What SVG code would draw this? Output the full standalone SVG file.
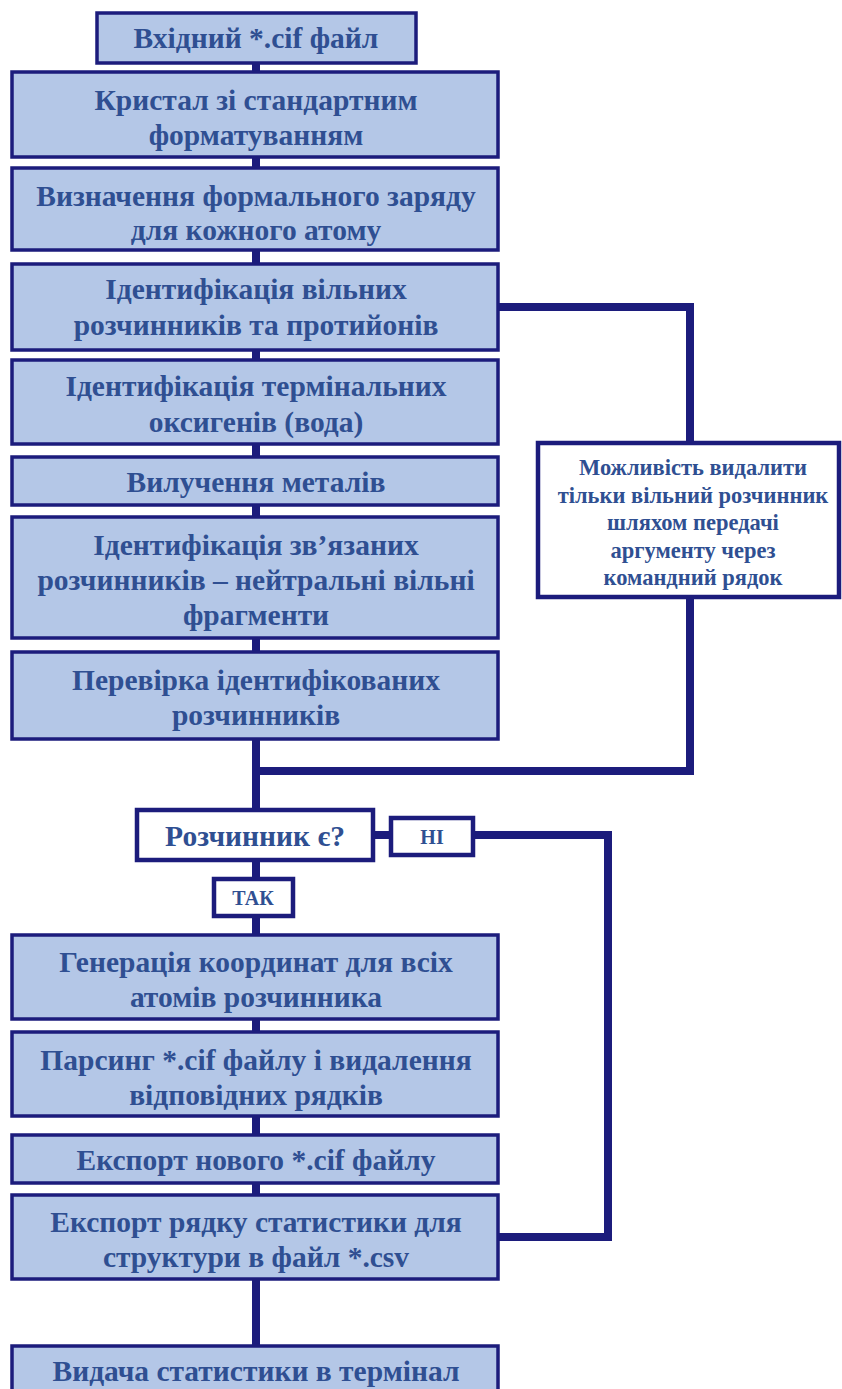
<svg xmlns="http://www.w3.org/2000/svg" width="842" height="1389" viewBox="0 0 842 1389">
<style>
.b{fill:#b4c7e7;stroke:#1c1c7c;stroke-width:3.5}
.w{fill:#ffffff;stroke:#1c1c7c;stroke-width:4.5}
.t{font-family:"Liberation Serif","Times New Roman",serif;font-weight:bold;font-size:29.5px;fill:#2f4f92;text-anchor:middle;dominant-baseline:central}
.s{font-size:22.5px}
.l{font-size:20px}
.c{fill:none;stroke:#1c1c7c;stroke-width:8}
</style>
<rect width="842" height="1389" fill="#ffffff"/>
<g id="connectors">
<path class="c" d="M256 62V1350"/>
<path class="c" d="M497 307H690V443"/>
<path class="c" d="M690 597V771H256" stroke-width="9"/>
<path class="c" d="M373 835H391"/>
<path class="c" d="M473 835H608V1237H497" stroke-width="9"/>
</g>
<g id="n1"><rect class="b" x="97" y="13" width="319" height="50"/><text class="t" x="256" y="38">Вхідний *.cif файл</text></g>
<g id="n2"><rect class="b" x="12" y="72" width="486" height="85"/><text class="t" x="256" y="100">Кристал зі стандартним</text><text class="t" x="256" y="135">форматуванням</text></g>
<g id="n3"><rect class="b" x="12" y="168" width="486" height="82"/><text class="t" x="256" y="196">Визначення формального заряду</text><text class="t" x="256" y="230">для кожного атому</text></g>
<g id="n4"><rect class="b" x="12" y="264" width="486" height="86"/><text class="t" x="256" y="289">Ідентифікація вільних</text><text class="t" x="256" y="325">розчинників та протийонів</text></g>
<g id="n5"><rect class="b" x="12" y="360" width="486" height="84"/><text class="t" x="256" y="386">Ідентифікація термінальних</text><text class="t" x="256" y="422">оксигенів (вода)</text></g>
<g id="n6"><rect class="b" x="12" y="457" width="486" height="48"/><text class="t" x="256" y="482">Вилучення металів</text></g>
<g id="n7"><rect class="b" x="12" y="517" width="486" height="121"/><text class="t" x="256" y="545">Ідентифікація зв’язаних</text><text class="t" x="256" y="580">розчинників – нейтральні вільні</text><text class="t" x="256" y="615">фрагменти</text></g>
<g id="n8"><rect class="b" x="12" y="652" width="486" height="87"/><text class="t" x="256" y="680">Перевірка ідентифікованих</text><text class="t" x="256" y="715">розчинників</text></g>
<g id="n-right"><rect class="w" x="538" y="443" width="301" height="154"/><text class="t s" x="693" y="467">Можливість видалити</text><text class="t s" x="693" y="495">тільки вільний розчинник</text><text class="t s" x="693" y="522">шляхом передачі</text><text class="t s" x="693" y="550">аргументу через</text><text class="t s" x="693" y="577">командний рядок</text></g>
<g id="n-decision"><rect class="w" x="137" y="810" width="236" height="50"/><text class="t" x="255" y="836">Розчинник є?</text></g>
<g id="n-no"><rect class="w" x="391" y="818" width="82" height="37"/><text class="t l" x="432" y="837">НІ</text></g>
<g id="n-yes"><rect class="w" x="214" y="879" width="79" height="37"/><text class="t l" x="253" y="898">ТАК</text></g>
<g id="n9"><rect class="b" x="12" y="935" width="486" height="84"/><text class="t" x="256" y="962">Генерація координат для всіх</text><text class="t" x="256" y="997">атомів розчинника</text></g>
<g id="n10"><rect class="b" x="12" y="1032" width="486" height="84"/><text class="t" x="256" y="1060">Парсинг *.cif файлу і видалення</text><text class="t" x="256" y="1095">відповідних рядків</text></g>
<g id="n11"><rect class="b" x="12" y="1135" width="486" height="48"/><text class="t" x="256" y="1160">Експорт нового *.cif файлу</text></g>
<g id="n12"><rect class="b" x="12" y="1195" width="486" height="84"/><text class="t" x="256" y="1222">Експорт рядку статистики для</text><text class="t" x="256" y="1257">структури в файл *.csv</text></g>
<g id="n13"><rect class="b" x="12" y="1346" width="486" height="60"/><text class="t" x="256" y="1371">Видача статистики в термінал</text></g>
</svg>
